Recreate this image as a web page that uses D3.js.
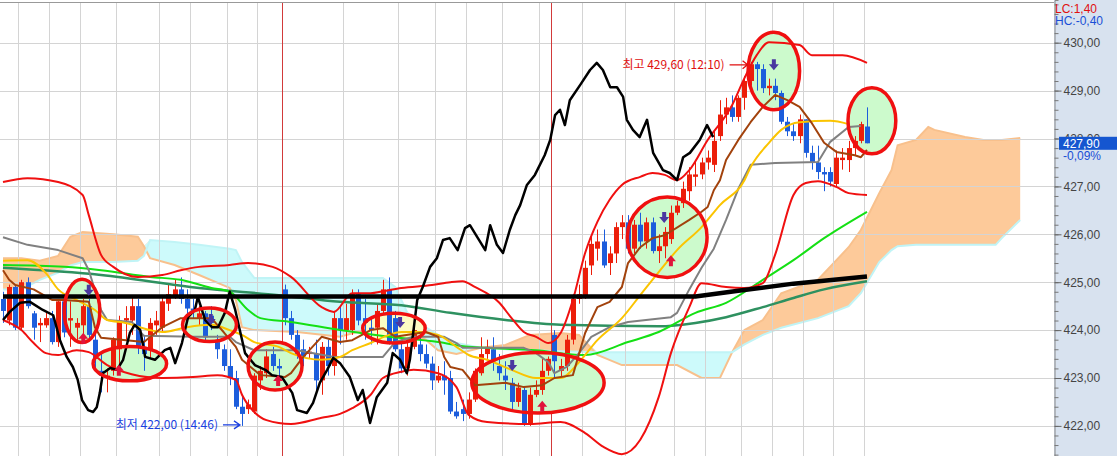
<!DOCTYPE html>
<html><head><meta charset="utf-8">
<script src="https://cdn.jsdelivr.net/npm/d3@7"></script>
<style>body{margin:0;background:#fff;overflow:hidden}svg{display:block}</style>
</head><body>
<svg id="c" width="1117" height="456"></svg>
<script>
// ---------- DATA ----------
const opens=[424.65,424.20,424.90,424.05,425.00,424.35,424.10,424.10,424.25,423.75,424.60,424.20,424.05,424.10,424.50,423.80,423.15,423.00,423.15,423.60,424.20,424.20,424.50,423.60,423.60,424.10,424.05,424.55,424.70,424.85,424.65,424.45,424.25,424.35,424.30,423.75,423.60,423.25,423.00,422.40,422.35,422.30,422.95,423.10,423.50,423.25,424.85,424.25,423.90,423.60,423.50,423.50,422.95,423.65,423.25,424.25,424.00,424.00,424.75,424.25,424.05,424.05,424.40,424.85,424.25,423.60,423.20,423.65,423.70,423.50,423.30,422.95,423.05,423.00,422.30,422.35,422.25,422.55,423.10,423.50,423.60,423.25,423.05,422.90,422.50,422.75,422.05,422.65,422.75,423.15,423.90,423.15,423.25,423.80,424.65,424.70,425.35,425.70,425.85,425.40,425.60,426.15,426.25,425.70,426.20,425.85,426.25,425.65,425.75,425.90,426.45,426.65,426.90,427.20,427.25,427.50,427.45,428.05,428.50,428.65,428.45,428.85,429.20,429.55,429.45,429.05,429.10,428.95,428.35,428.15,428.05,428.40,427.70,427.50,427.30,427.30,427.05,427.55,427.55,427.80,427.95,428.25];
const highs=[424.80,424.95,424.95,425.05,425.10,424.40,424.25,424.40,424.40,424.65,424.70,424.60,424.25,424.65,424.65,424.00,423.50,423.20,423.85,424.30,424.50,424.70,424.65,423.90,424.25,424.40,424.70,424.95,425.05,425.10,424.85,424.65,424.50,424.40,424.50,423.90,423.70,423.60,423.15,422.65,422.55,423.10,423.25,423.60,423.65,423.40,424.95,424.40,424.00,423.80,423.65,423.80,423.75,423.80,424.40,424.50,424.55,424.85,424.85,424.65,424.25,424.55,425.05,425.10,424.40,423.80,423.80,424.15,423.85,423.70,423.45,423.25,423.35,423.15,422.50,422.55,422.70,423.20,423.85,423.80,423.85,423.50,423.35,423.00,422.90,422.80,422.80,422.95,423.40,423.45,424.00,423.40,423.90,424.75,424.95,425.45,425.95,426.10,426.10,425.75,426.25,426.40,426.40,426.30,426.45,426.35,426.35,426.00,426.15,426.60,426.70,427.10,427.40,427.55,427.60,427.75,428.15,428.80,428.85,428.90,428.90,429.30,429.60,429.60,429.55,429.25,429.25,429.00,428.45,428.30,428.50,428.40,427.85,427.85,427.40,427.40,427.75,427.80,427.95,428.05,428.35,428.65];
const lows=[424.15,424.10,424.00,424.00,424.45,423.80,423.75,424.05,423.70,423.65,423.85,423.65,423.75,423.80,423.80,423.20,422.70,422.70,423.05,423.25,423.80,423.90,423.50,423.15,423.40,423.90,423.95,424.40,424.65,424.55,424.30,424.25,424.10,423.75,424.00,423.40,423.15,422.85,422.35,422.00,422.25,422.25,422.75,423.00,423.15,423.05,424.10,423.80,423.40,423.25,423.40,422.75,422.65,423.05,423.05,423.70,423.80,423.90,424.10,423.80,423.70,423.70,424.35,423.70,423.55,423.10,423.05,423.60,423.35,423.20,422.75,422.90,422.65,422.25,422.15,422.10,422.15,422.50,423.05,423.40,423.15,422.95,422.75,422.35,422.40,422.00,422.00,422.60,422.65,423.05,423.00,423.00,423.15,423.70,424.55,424.65,425.15,425.45,425.30,425.15,425.40,425.90,425.60,425.60,425.70,425.70,425.60,425.40,425.50,425.80,426.40,426.55,426.70,427.00,427.15,427.35,427.30,427.95,428.30,428.35,428.35,428.60,429.10,429.00,428.95,428.90,428.80,428.30,428.05,427.95,427.90,427.60,427.35,427.15,426.90,427.00,427.00,427.35,427.30,427.65,427.90,427.90];
const closes=[424.40,424.90,424.05,425.00,424.50,424.05,424.15,424.25,423.75,424.60,423.95,424.25,424.15,424.50,423.90,423.40,423.05,423.05,423.80,424.20,424.25,424.50,423.65,423.50,424.15,424.20,424.60,424.75,424.85,424.65,424.45,424.40,424.35,423.85,424.15,423.60,423.25,423.00,422.40,422.25,422.45,423.05,423.15,423.45,423.25,423.20,424.25,423.90,423.50,423.45,423.55,422.95,423.65,423.25,424.25,424.00,424.25,424.75,424.20,424.15,424.00,424.40,424.85,423.75,423.60,423.20,423.65,424.00,423.50,423.30,422.95,423.05,422.95,422.30,422.20,422.25,422.55,423.15,423.50,423.65,423.35,423.10,422.95,422.50,422.80,422.05,422.65,422.75,423.15,423.40,423.35,423.25,423.80,424.65,424.75,425.30,425.80,425.85,425.35,425.60,426.15,426.25,425.70,426.20,425.85,426.25,425.65,425.75,426.05,426.45,426.60,426.95,427.25,427.25,427.50,427.60,427.95,428.50,428.65,428.45,428.85,429.20,429.55,429.45,429.05,429.10,428.95,428.35,428.15,428.05,428.40,427.70,427.50,427.30,427.25,427.10,427.60,427.60,427.80,427.95,428.30,427.90];

const bbUpper=[[0,427.09],[4,427.17],[9,427.09],[13,426.82],[14,426.40],[16,425.57],[18,425.32],[22,425.11],[26,425.15],[29,425.25],[32,425.32],[37,425.36],[40,425.40],[44,425.32],[47,425.11],[52,424.48],[54,424.38],[57,424.77],[60,424.77],[62,424.81],[65,424.88],[70,424.94],[73,425.00],[75,425.02],[77,424.90],[81,424.57],[83,424.25],[85,423.96],[87,423.86],[89,423.73],[91,423.94],[93,424.63],[95,425.61],[97,426.26],[99,426.72],[101,427.03],[104,427.20],[106,427.28],[108,427.24],[110,427.13],[112,427.34],[115,427.97],[119,428.70],[121,429.26],[123,429.74],[125,430.01],[130,429.95],[132,429.74],[137,429.74],[141,429.58]];
const bbLower=[[0,424.21],[3,424.00],[5,423.73],[7,423.52],[9,423.48],[12,423.58],[14,423.54],[17,423.27],[21,423.08],[26,423.00],[31,423.02],[35,423.06],[38,422.96],[39,422.65],[41,422.29],[43,422.12],[47,422.04],[52,422.17],[55,422.25],[57,422.37],[60,422.65],[62,423.00],[65,423.13],[67,423.17],[71,423.10],[74,422.81],[76,422.23],[79,422.08],[86,422.04],[91,422.08],[95,421.85],[98,421.56],[101,421.41],[104,421.71],[107,422.60],[109,423.52],[112,424.48],[114,424.98],[118,424.90],[121,424.88],[124,424.98],[126,425.57],[129,426.82],[131,427.07],[133,427.11],[136,426.99],[138,426.86],[141,426.82]];
const ma20=[[0,425.45],[4,425.46],[7,425.19],[9,424.85],[12,424.63],[15,424.42],[17,424.21],[20,424.15],[24,424.00],[26,423.96],[30,424.06],[34,424.11],[37,424.00],[39,423.90],[41,423.75],[45,423.65],[47,423.52],[52,423.38],[55,423.44],[57,423.58],[60,423.73],[63,423.90],[65,423.96],[68,423.96],[71,423.90],[74,423.65],[76,423.48],[79,423.38],[83,423.17],[87,423.00],[91,423.00],[94,423.33],[97,423.79],[101,424.25],[104,424.73],[107,425.21],[110,425.67],[114,426.15],[117,426.61],[121,427.13],[122,427.40],[125,427.91],[127,428.18],[130,428.34],[135,428.37],[138,428.30]];
const tenkan=[[0,425.25],[1,425.05],[2,424.94],[5,424.85],[8,424.63],[10,424.63],[14,424.59],[15,424.06],[16,423.84],[23,423.75],[26,424.06],[29,424.25],[34,424.25],[36,423.96],[38,423.65],[39,423.38],[42,423.06],[46,423.02],[47,423.10],[49,423.44],[52,423.86],[55,423.75],[57,423.79],[60,424.00],[62,424.04],[64,423.86],[69,423.96],[71,423.86],[72,423.44],[73,423.23],[75,423.17],[77,422.85],[82,422.90],[85,422.81],[88,422.85],[90,423.00],[93,423.06],[95,423.94],[97,424.48],[99,424.59],[101,424.90],[102,425.40],[104,425.73],[106,425.92],[108,425.98],[112,426.30],[114,426.47],[115,426.57],[116,426.92],[117,427.13],[118,427.55],[120,427.97],[122,428.34],[124,428.66],[126,428.91],[128,428.80],[130,428.66],[132,428.32],[134,427.91],[136,427.72],[139,427.65],[140,427.61],[141,427.76]];
const kijun=[[0,425.94],[4,425.78],[9,425.67],[13,425.50],[14,425.25],[16,424.42],[17,424.21],[21,424.17],[23,423.88],[31,423.86],[37,423.86],[38,423.75],[41,423.58],[48,423.58],[54,423.44],[62,423.44],[64,423.75],[67,423.86],[72,423.86],[74,423.73],[75,423.63],[85,423.63],[87,423.52],[89,423.33],[90,423.10],[92,423.23],[94,423.52],[96,423.86],[99,424.06],[102,424.17],[109,424.27],[110,424.36],[112,424.85],[114,425.30],[116,425.70],[118,426.30],[120,426.95],[122,427.45],[126,427.49],[133,427.51],[135,427.93],[138,428.24],[140,428.26]];
const ma60=[[0,425.36],[10,425.32],[16,425.25],[24,425.11],[29,425.05],[34,424.88],[37,424.80],[40,424.42],[42,424.25],[47,424.17],[55,424.00],[63,423.86],[71,423.75],[76,423.65],[87,423.58],[95,423.48],[102,423.75],[107,423.96],[113,424.36],[118,424.57],[124,425.05],[129,425.46],[134,425.92],[141,426.47]];
const ma120=[[0,425.30],[16,425.15],[32,424.88],[45,424.73],[55,424.59],[65,424.52],[73,424.36],[82,424.21],[91,424.11],[107,424.08],[113,424.15],[118,424.27],[124,424.48],[129,424.67],[134,424.85],[141,425.02]];
const ma240=[[0,424.70],[113,424.70],[120,424.82],[129,424.97],[141,425.12]];
const overlay=[[0,424.21],[1.1,424.38],[2.8,424.57],[4.4,424.59],[6.5,424.42],[8.2,424.31],[9.3,423.79],[10.4,423.44],[11.4,423.23],[12.2,422.96],[12.9,422.54],[13.9,422.33],[14.7,422.29],[15.3,422.39],[15.8,422.69],[16.3,423.10],[17.5,423.21],[18.6,423.17],[19.6,423.38],[20.7,423.94],[21.5,424.11],[22.4,424.00],[23.2,423.44],[24.8,423.38],[26.4,423.58],[27.3,423.63],[28.1,423.31],[29.2,423.73],[30.2,424.27],[31.3,424.42],[31.8,424.69],[33.0,424.21],[34.1,424.06],[35.1,424.06],[36.2,424.36],[37.0,424.80],[37.9,424.42],[39.5,423.52],[41.1,423.27],[42.8,423.17],[43.9,423.06],[45.5,423.02],[47.2,422.69],[48.0,422.33],[49.6,422.27],[50.6,422.48],[51.7,422.90],[52.9,423.17],[53.9,423.42],[55.0,423.31],[56.6,423.02],[57.9,422.54],[58.7,422.75],[59.9,422.06],[61.0,422.60],[62.7,422.90],[63.6,423.52],[64.8,423.38],[65.9,423.10],[66.4,423.38],[67.6,424.63],[68.5,424.90],[69.7,425.32],[70.8,425.50],[71.8,425.88],[72.9,425.92],[74.2,425.67],[75.4,426.13],[76.2,426.19],[77.5,425.92],[78.7,425.67],[79.5,426.19],[80.6,425.78],[81.6,425.61],[82.7,426.09],[83.6,426.40],[84.4,426.61],[85.5,427.03],[86.8,427.24],[88.4,427.65],[89.3,427.97],[90.1,428.49],[90.9,428.60],[91.7,428.28],[92.5,428.80],[94.2,429.12],[95.8,429.43],[96.9,429.58],[97.9,429.43],[99.1,429.07],[100.2,429.07],[101.2,428.87],[101.8,428.39],[102.8,428.18],[103.9,428.03],[105.1,428.39],[106.1,427.70],[107.7,427.34],[108.8,427.28],[110.0,427.13],[111.0,427.61],[112.1,427.70],[113.7,427.97],[114.9,428.28],[115.9,428.03]];
// Ichimoku cloud (already shifted 26 ahead): [index, spanA, spanB]
const cloudIdx=[0,3,6,9,11,13,18,22,23,24,28,32,37,38,39,41,48,55,62,64,66,69,71,74,78,82,86,91,94,97,101,110,114,117,119,121,124,127,133,138,140,143,145,146,149,151,152,157,160,162,163,166];
const spanA=[425.50,425.50,425.45,425.55,425.95,426.05,426.00,425.95,425.75,425.50,425.36,425.15,424.88,424.63,424.06,424.00,423.96,423.86,424.11,424.00,423.95,423.80,423.58,423.50,423.63,423.69,423.90,423.94,423.90,423.48,423.27,423.27,423.00,423.00,423.54,424.00,424.21,424.77,425.05,425.73,426.09,426.86,427.34,427.86,427.97,428.24,428.18,428.03,427.97,427.97,427.97,428.01];
const spanB=[424.85,424.85,425.05,425.20,425.35,425.42,425.42,425.45,425.55,425.88,425.84,425.78,425.70,425.67,425.42,425.09,425.09,425.09,425.09,424.90,424.36,424.06,423.90,423.73,423.63,423.60,423.58,423.56,423.55,423.54,423.54,423.54,423.54,423.54,423.54,423.70,423.90,424.05,424.25,424.50,424.77,425.42,425.67,425.75,425.78,425.78,425.78,425.78,425.78,425.78,425.92,426.30];
// grid / session separators (candle positions)
const gridIdx=[2.5,7.5,12.5,18.5,25.5,30.5,36.5,41.5,55.5,64.5,70.5,75.5,81.5,87.5,94.5,101.5,109.5,114.5,120.5,125.5,130.5,135.5,140.5];
const sessionIdx=[45.5,89.5];
const priceTicks=[422,423,424,425,426,427,428,429,430];
// signal ellipses: [centerIdx, centerPrice, radiusIdx, radiusPrice]
const ellipses=[[12.9,424.40,2.9,0.66],[20.7,423.30,6.0,0.36],[33.7,424.11,4.4,0.35],[44.4,423.25,4.4,0.50],[63.8,424.04,5.1,0.31],[87.3,422.90,10.8,0.63],[108.4,425.94,6.5,0.84],[125.8,429.41,4.2,0.81],[141.8,428.37,3.9,0.69]];
// signal arrows: [idx, price, dir] (-1 = down/purple, 1 = up/red)
const arrows=[[14.0,424.82,-1],[13.1,423.84,1],[18.9,423.17,1],[33.9,424.21,-1],[44.9,422.96,1],[64.8,424.15,-1],[83.1,423.25,-1],[88.0,422.42,1],[107.9,426.34,-1],[109.0,425.46,1],[125.8,429.53,-1]];
const hiMark={idx:122,price:429.60,label:"최고 429,60 (12:10)"};
const loMark={idx:39,price:422.00,label:"최저 422,00 (14:46)"};
const lastPrice=427.90, lastChange="-0,09%", lcText="LC:1,40", hcText="HC:-0,40";

// ---------- DRAW ----------
const W=1117,H=456,axisX=1054;
const svg=d3.select("#c");
const x=d3.scaleLinear().domain([0,141]).range([3,867]);
const y=d3.scaleLinear().domain([422,430]).range([425.9,42.7]);
const fmt=v=>d3.format(".2f")(v).replace(".",",");

svg.append("rect").attr("width",W).attr("height",H).attr("fill","#fff");
svg.append("defs").append("clipPath").attr("id","pc").append("rect").attr("x",0).attr("y",3).attr("width",axisX).attr("height",H-3);
const g=svg.append("g").attr("clip-path","url(#pc)");

// cloud
const cl=cloudIdx.map((d,i)=>({i:d,a:spanA[i],b:spanB[i]}));
g.append("path").datum(cl).attr("fill","#fdca9a")
 .attr("d",d3.area().x(d=>x(d.i)).y0(d=>y(d.b)).y1(d=>y(Math.max(d.a,d.b))));
g.append("path").datum(cl).attr("fill","#cdfafb")
 .attr("d",d3.area().x(d=>x(d.i)).y0(d=>y(d.a)).y1(d=>y(Math.max(d.a,d.b))));
g.append("path").datum(cl).attr("fill","none").attr("stroke","#f8c08c").attr("stroke-width",2)
 .attr("d",d3.line().x(d=>x(d.i)).y(d=>y(d.a)));
g.append("path").datum(cl).attr("fill","none").attr("stroke","#c0f4f6").attr("stroke-width",2)
 .attr("d",d3.line().x(d=>x(d.i)).y(d=>y(d.b)));

// grid
g.selectAll(".hg").data(priceTicks).enter().append("line")
 .attr("x1",0).attr("x2",axisX).attr("y1",d=>Math.round(y(d))+0.5).attr("y2",d=>Math.round(y(d))+0.5)
 .attr("stroke","#d4d4d4").attr("stroke-width",1);
g.selectAll(".vg").data(gridIdx).enter().append("line")
 .attr("x1",d=>Math.round(x(d))+0.5).attr("x2",d=>Math.round(x(d))+0.5).attr("y1",3).attr("y2",H)
 .attr("stroke","#d4d4d4").attr("stroke-width",1);
g.selectAll(".sg").data(sessionIdx).enter().append("line")
 .attr("x1",d=>Math.round(x(d))+0.5).attr("x2",d=>Math.round(x(d))+0.5).attr("y1",3).attr("y2",H)
 .attr("stroke","#d23a3a").attr("stroke-width",1);

// ellipse fills
const ex=d=>x(d[0]), ey=d=>y(d[1]), erx=d=>x(d[2])-x(0);
g.selectAll(".ef").data(ellipses).enter().append("ellipse")
 .attr("cx",ex).attr("cy",ey).attr("rx",erx).attr("ry",d=>y(422)-y(422+d[3]))
 .attr("fill",(d,i)=>i===4?"#fcfcc4":"#ccfacc");

// candles
const RED="#ec1e0a",BLUE="#1c5ddc";
const cg=g.append("g");
opens.forEach((o,i)=>{
  const c=closes[i],up=c>=o,col=up?RED:BLUE,cx=Math.round(x(i));
  cg.append("line").attr("x1",cx+0.5).attr("x2",cx+0.5).attr("y1",y(highs[i])).attr("y2",y(lows[i])).attr("stroke",col).attr("stroke-width",1);
  const t=y(Math.max(o,c)),b=y(Math.min(o,c));
  cg.append("rect").attr("x",cx-2).attr("y",t).attr("width",5).attr("height",Math.max(1.5,b-t)).attr("fill",col);
});

// indicator lines
const ln=(data,col,w,curve)=>g.append("path").datum(data).attr("fill","none").attr("stroke",col).attr("stroke-width",w)
  .attr("stroke-linejoin","round").attr("d",d3.line().x(d=>x(d[0])).y(d=>y(d[1])).curve(curve||d3.curveLinear));
ln(ma120,"#2e9160",2.5,d3.curveMonotoneX);
ln(ma60,"#14e014",2,d3.curveMonotoneX);
ln(kijun,"#808080",2);
ln(ma20,"#fbc400",2,d3.curveMonotoneX);
ln(tenkan,"#a2420c",2);
ln(bbUpper,"#f01010",2,d3.curveMonotoneX);
ln(bbLower,"#f01010",2,d3.curveMonotoneX);
ln(ma240,"#000",4.5);
ln(overlay,"#000",2.5);

// ellipse outlines
g.selectAll(".es").data(ellipses).enter().append("ellipse")
 .attr("cx",ex).attr("cy",ey).attr("rx",erx).attr("ry",d=>y(422)-y(422+d[3]))
 .attr("fill","none").attr("stroke","#f01010").attr("stroke-width",3.5);

// arrows
arrows.forEach(a=>{
  const ax=x(a[0]),ay=y(a[1]),s=a[2];
  const p=s<0?`M${ax-2},${ay-6}h4v5h3l-5,6l-5,-6h3z`:`M${ax-2},${ay+6}h4v-5h3l-5,-6l-5,6h3z`;
  g.append("path").attr("d",p).attr("fill",s<0?"#4a38a0":"#e0143c");
});

// hi / lo annotations
const F="'Noto Sans CJK KR','DejaVu Sans',sans-serif";
const hx=x(hiMark.idx),hy=y(hiMark.price)+3;
g.append("text").attr("x",hx-26).attr("y",hy+4).attr("text-anchor","end").attr("font-family",F).attr("font-size",12).attr("fill","#e01010").text(hiMark.label);
g.append("path").attr("d",`M${hx-21},${hy}H${hx-4}M${hx-8},${hy-4}L${hx-3},${hy}L${hx-8},${hy+4}`).attr("stroke","#e01010").attr("stroke-width",1.3).attr("fill","none");
const lx=x(loMark.idx),ly=y(loMark.price)-1;
g.append("text").attr("x",lx-24).attr("y",ly+4).attr("text-anchor","end").attr("font-family",F).attr("font-size",12).attr("fill","#1a3fe0").text(loMark.label);
g.append("path").attr("d",`M${lx-19},${ly}H${lx-3}M${lx-8},${ly-4}L${lx-2},${ly}L${lx-8},${ly+4}`).attr("stroke","#1a3fe0").attr("stroke-width",1.3).attr("fill","none");

// top border
svg.append("line").attr("x1",0).attr("x2",axisX).attr("y1",2.5).attr("y2",2.5).attr("stroke","#999").attr("stroke-width",1);

// right axis panel
svg.append("rect").attr("x",axisX).attr("y",0).attr("width",W-axisX).attr("height",H).attr("fill","#d8e2ef");
const ya=d3.scaleLinear().domain([y.invert(H),y.invert(0)]).range([H,0]);
const minor=d3.range(Math.ceil(ya.domain()[0]*5)/5,ya.domain()[1],0.2);
svg.append("g").attr("transform",`translate(${axisX+0.5},0)`)
 .call(d3.axisRight(ya).tickValues(minor).tickSize(4).tickFormat(""))
 .call(s=>{s.select(".domain").attr("stroke","#888");s.selectAll("line").attr("stroke","#777");});
const ax=svg.append("g").attr("transform",`translate(${axisX+0.5},0)`)
 .call(d3.axisRight(ya).tickValues(priceTicks).tickSize(7).tickPadding(2).tickFormat(fmt));
ax.select(".domain").remove();
ax.selectAll("line").attr("stroke","#666");
ax.selectAll("text").attr("font-family","'Liberation Sans',Arial,sans-serif").attr("font-size",12).attr("fill","#444");

// last price tag
const py=y(lastPrice);
svg.append("rect").attr("x",1059).attr("y",py-6.5).attr("width",58).attr("height",13).attr("fill","#1556d0");
svg.append("text").attr("x",1063).attr("y",py+4.5).attr("font-family","'Liberation Sans',Arial,sans-serif").attr("font-size",12).attr("fill","#fff").text(fmt(lastPrice));
svg.append("text").attr("x",1063).attr("y",py+17).attr("font-family","'Liberation Sans',Arial,sans-serif").attr("font-size",12).attr("fill","#1a4fd6").text(lastChange);
svg.append("text").attr("x",1055).attr("y",13).attr("font-family","'Liberation Sans',Arial,sans-serif").attr("font-size",12).attr("fill","#e01010").text(lcText);
svg.append("text").attr("x",1055).attr("y",25).attr("font-family","'Liberation Sans',Arial,sans-serif").attr("font-size",12).attr("fill","#1a4fd6").text(hcText);
</script>
</body></html>
